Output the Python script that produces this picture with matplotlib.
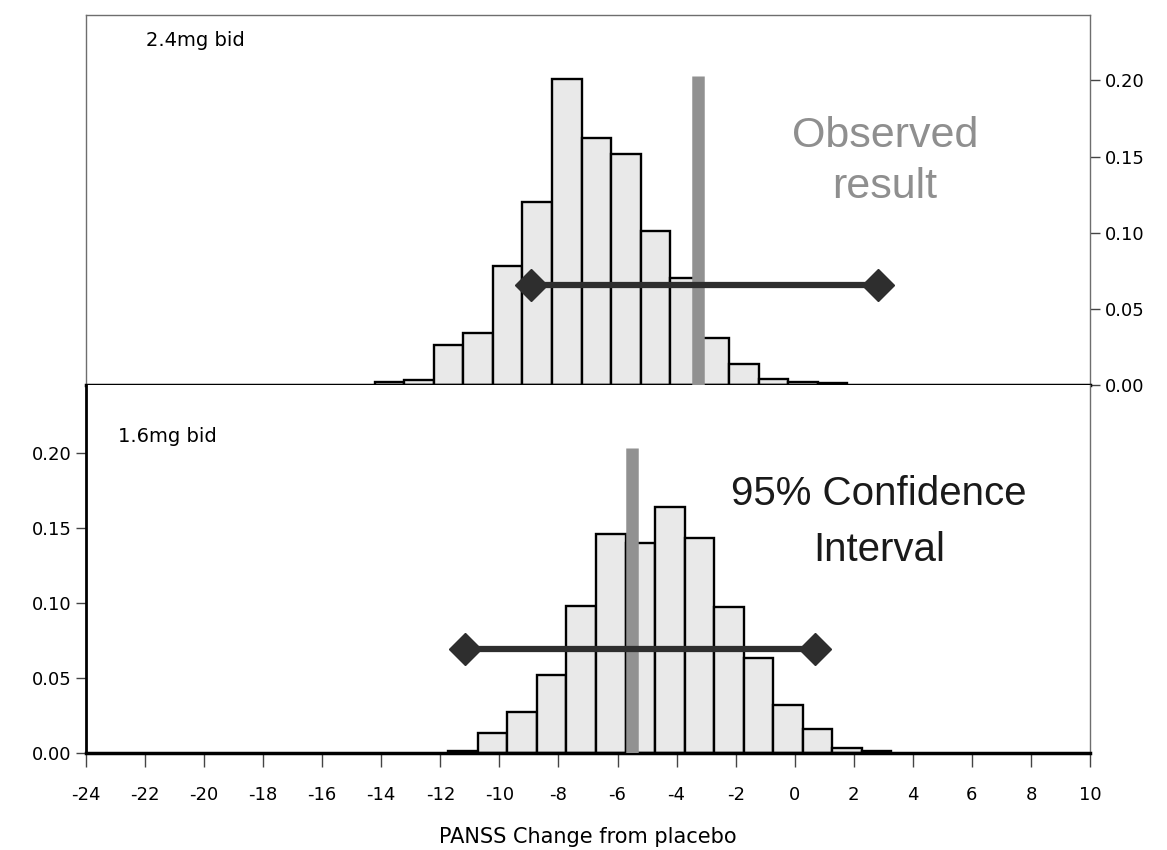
import matplotlib
matplotlib.use("Agg")
from matplotlib import pyplot as plt
import numpy

# simulated distributions of the change from placebo, 1-point bins
top_start = -14.22
top_probs = [0.002, 0.003, 0.026, 0.034, 0.078, 0.120, 0.201, 0.162,
             0.152, 0.101, 0.070, 0.031, 0.014, 0.004, 0.002, 0.001]
top_obs = -3.28
top_ci = [-8.93, 2.82]
top_ci_y = 0.066

bot_start = -11.73
bot_probs = [0.001, 0.013, 0.027, 0.052, 0.098, 0.146, 0.140, 0.164,
             0.143, 0.097, 0.063, 0.032, 0.016, 0.003, 0.001]
bot_obs = -5.51
bot_ci = [-11.17, 0.69]
bot_ci_y = 0.069

xticks = list(range(-24, 11, 2))
yticks = [0.00, 0.05, 0.10, 0.15, 0.20]

plt.rcParams["font.family"] = ["DejaVu Sans"]
plt.rcParams["axes.unicode_minus"] = False
big_font = ["Liberation Sans", "DejaVu Sans"]

fig = plt.figure(figsize=(11.67, 8.5), dpi=100)
ax_top = fig.add_axes([86/1167, 1 - 385/850, 1004/1167, 370/850])
ax_bot = fig.add_axes([86/1167, 1 - 753/850, 1004/1167, 368/850])

frame = "#6e6e6e"


def panel(ax, start, probs, obs, ci, ci_y):
    edges = start + numpy.arange(len(probs))
    ax.bar(edges, probs, width=1.0, align="edge", color="#e9e9e9",
           edgecolor="black", linewidth=1.7, zorder=2)
    ax.vlines(obs, 0, 0.203, color="#919191", linewidth=9, zorder=3)
    ax.plot(ci, [ci_y, ci_y], color="#2e2e2e", linewidth=4.5,
            marker="D", markersize=16, zorder=4)
    ax.set_xlim(-24, 10)
    ax.set_xticks(xticks)
    ax.set_yticks(yticks)
    ax.yaxis.set_major_formatter(matplotlib.ticker.FormatStrFormatter("%.2f"))
    ax.tick_params(labelsize=13, length=7, width=1, color="#444")
    for s in ax.spines.values():
        s.set_color(frame)
        s.set_linewidth(1)


panel(ax_top, top_start, top_probs, top_obs, top_ci, top_ci_y)
ax_top.set_ylim(0, 0.243)
ax_top.yaxis.tick_right()
ax_top.tick_params(axis="x", bottom=False, labelbottom=False)
ax_top.spines["bottom"].set_color("black")
ax_top.spines["bottom"].set_linewidth(2.5)
ax_top.text(0.06, 0.932, "2.4mg bid", transform=ax_top.transAxes,
            fontsize=14, va="center", ha="left")
ax_top.text(0.796, 0.603, "Observed\nresult", transform=ax_top.transAxes,
            fontsize=31, ha="center", va="center", color="#8f8f8f",
            family=big_font, linespacing=1.35)

panel(ax_bot, bot_start, bot_probs, bot_obs, bot_ci, bot_ci_y)
ax_bot.set_ylim(0, 0.245)
ax_bot.spines["top"].set_visible(False)
ax_bot.spines["left"].set_color("black")
ax_bot.spines["left"].set_linewidth(2)
ax_bot.spines["bottom"].set_color("black")
ax_bot.spines["bottom"].set_linewidth(2.5)
ax_bot.tick_params(axis="x", length=10, pad=14)
ax_bot.text(0.032, 0.859, "1.6mg bid", transform=ax_bot.transAxes,
            fontsize=14, va="center", ha="left")
ax_bot.text(0.79, 0.628, "95% Confidence\nInterval", transform=ax_bot.transAxes,
            fontsize=29, ha="center", va="center", color="#1a1a1a",
            family=big_font, linespacing=1.6)
ax_bot.set_xlabel("PANSS Change from placebo", fontsize=15, labelpad=16)

fig.savefig("out.png", dpi=100)
